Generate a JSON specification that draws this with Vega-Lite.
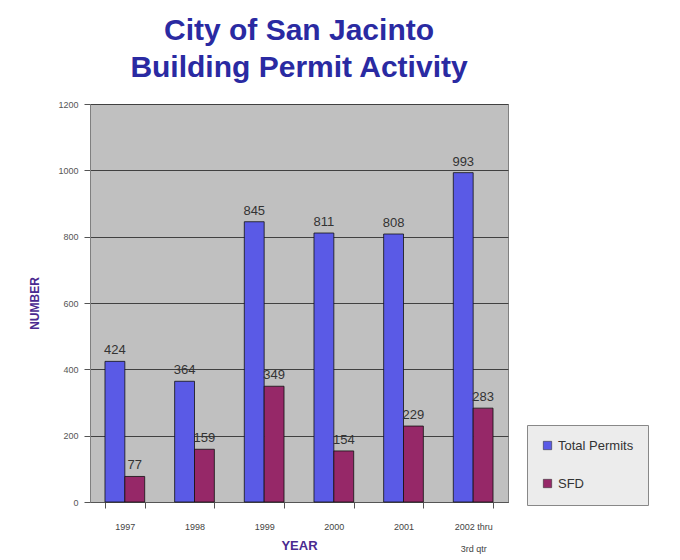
{
  "$schema": "https://vega.github.io/schema/vega-lite/v6.json",
  "autosize": "none",
  "width": 418,
  "height": 398,
  "padding": {"left": 90, "top": 104, "right": 172, "bottom": 58},
  "background": "#ffffff",
  "title": {
    "text": ["City of San Jacinto", "Building Permit Activity"],
    "font": "Liberation Sans",
    "fontSize": 30,
    "fontWeight": "bold",
    "color": "#2a2aa2",
    "lineHeight": 37,
    "anchor": "middle",
    "frame": "group",
    "offset": 17
  },
  "config": {
    "view": {"fill": "#c0c0c0", "stroke": "#808080"},
    "font": "Liberation Sans"
  },
  "data": {
    "values": [
      {"year": "1997", "series": "Total Permits", "value": 424},
      {"year": "1997", "series": "SFD", "value": 77},
      {"year": "1998", "series": "Total Permits", "value": 364},
      {"year": "1998", "series": "SFD", "value": 159},
      {"year": "1999", "series": "Total Permits", "value": 845},
      {"year": "1999", "series": "SFD", "value": 349},
      {"year": "2000", "series": "Total Permits", "value": 811},
      {"year": "2000", "series": "SFD", "value": 154},
      {"year": "2001", "series": "Total Permits", "value": 808},
      {"year": "2001", "series": "SFD", "value": 229},
      {"year": "2002 thru 3rd qtr", "series": "Total Permits", "value": 993},
      {"year": "2002 thru 3rd qtr", "series": "SFD", "value": 283}
    ]
  },
  "encoding": {
    "x": {
      "field": "year",
      "type": "nominal",
      "sort": null,
      "scale": {"paddingInner": 0.43, "paddingOuter": 0.215},
      "axis": {
        "title": "YEAR",
        "titleFontSize": 13,
        "titleFontWeight": "bold",
        "titleColor": "#4a2a90",
        "titleY": 43,
        "titleBaseline": "middle",
        "labelAngle": 0,
        "labelFontSize": 9,
        "labelColor": "#444444",
        "labelPadding": 14,
        "labelLineHeight": 22,
        "labelExpr": "datum.value == '2002 thru 3rd qtr' ? ['2002 thru', '3rd qtr'] : datum.value",
        "tickBand": "extent",
        "tickColor": "#555555",
        "tickSize": 6,
        "domainColor": "#555555",
        "grid": false
      }
    },
    "y": {
      "field": "value",
      "type": "quantitative",
      "scale": {"domain": [0, 1200]},
      "axis": {
        "title": "NUMBER",
        "titleFontSize": 12,
        "titleFontWeight": "bold",
        "titleColor": "#4a2a90",
        "titlePadding": 16,
        "values": [0, 200, 400, 600, 800, 1000, 1200],
        "format": "d",
        "labelFontSize": 9,
        "labelColor": "#555555",
        "labelPadding": 6,
        "tickColor": "#555555",
        "tickSize": 6,
        "domainColor": "#808080",
        "grid": true,
        "gridColor": "#404040",
        "gridWidth": 1
      }
    },
    "xOffset": {"field": "series", "type": "nominal", "sort": ["Total Permits", "SFD"], "scale": {"paddingInner": 0, "paddingOuter": 0}}
  },
  "layer": [
    {
      "mark": {"type": "bar", "stroke": "#111111", "strokeWidth": 0.8},
      "encoding": {
        "color": {
          "field": "series",
          "type": "nominal",
          "sort": ["Total Permits", "SFD"],
          "scale": {"domain": ["Total Permits", "SFD"], "range": ["#5a5ae6", "#962868"]},
          "legend": {
            "title": null,
            "orient": "none",
            "legendX": 437,
            "legendY": 321,
            "fillColor": "#ececec",
            "strokeColor": "#888888",
            "padding": 14,
            "symbolType": "square",
            "symbolSize": 70,
            "symbolStrokeColor": "#222222",
            "symbolStrokeWidth": 0.5,
            "labelFontSize": 13,
            "labelColor": "#333333",
            "rowPadding": 24,
            "labelLimit": 200
          }
        }
      }
    },
    {
      "mark": {"type": "text", "baseline": "bottom", "dy": -4, "fontSize": 13, "color": "#333333"},
      "encoding": {"text": {"field": "value", "type": "quantitative"}}
    }
  ]
}
